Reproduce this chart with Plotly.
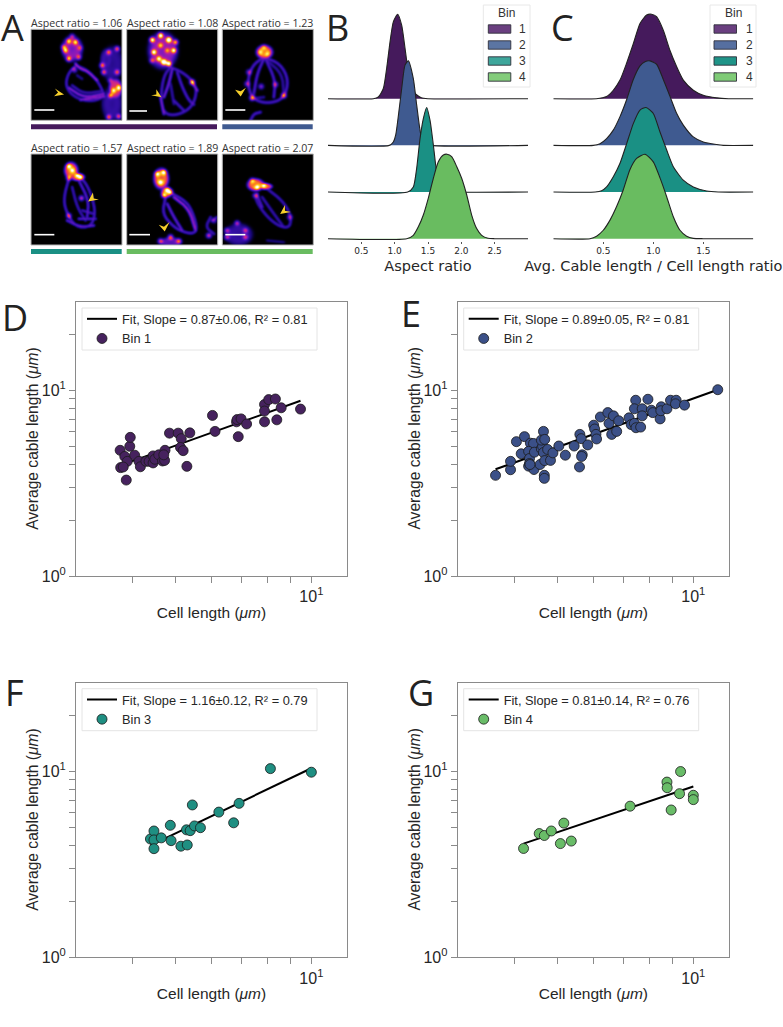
import numpy as np
import plotly.graph_objects as go

W, H = 783, 1027

# ---------------- DATA ----------------
d_x = [3.76,3.85,3.9,3.77,3.82,3.88,3.95,3.96,4.05,4.14,4.17,4.29,4.36,4.45,4.45,4.49,4.58,4.67,4.72,4.73,4.70,4.84,5.06,5.14,5.12,5.19,5.37,5.29,6.03,6.11,6.82,6.84,6.98,6.88,7.18,7.87,7.87,7.87,8.04,8.32,8.57,8.38,9.46]
d_y = [4.76,4.41,4.15,3.84,3.87,3.29,5.0,5.59,4.48,4.15,3.88,4.15,4.15,4.07,4.44,4.26,4.5,4.17,4.2,4.76,4.5,5.89,5.89,5.5,4.93,4.74,5.91,3.9,7.34,6.02,6.78,6.97,7.03,5.64,6.6,8.41,7.75,6.78,8.93,9.0,8.07,6.95,7.94]
e_x = [3.64,3.93,3.93,4.05,4.22,4.15,4.35,4.42,4.31,4.33,4.31,4.33,4.44,4.43,4.57,4.34,4.6,4.63,4.65,4.6,4.68,4.65,4.68,4.75,4.82,4.88,4.67,4.67,5.03,5.2,5.44,5.6,5.64,5.59,5.67,5.65,5.83,6.01,6.04,6.08,6.1,6.22,6.46,6.5,6.65,6.83,6.59,6.76,7.2,7.28,7.4,7.46,7.64,7.45,7.4,7.7,7.7,7.93,8.07,8.13,8.44,8.49,8.47,8.74,8.9,9.16,9.13,9.56,11.33]
e_y = [3.49,3.74,4.15,5.3,5.64,4.56,5.2,5.18,4.7,4.3,3.91,4.04,4.65,3.75,3.99,3.99,4.85,5.0,6.02,5.4,5.45,4.63,4.19,4.81,4.2,4.61,3.49,3.36,5.02,4.48,5.02,5.8,5.5,3.87,4.5,4.41,5.09,6.5,6.2,5.8,5.48,7.2,7.6,6.65,7.3,6.87,5.8,6.02,7.12,6.55,6.65,6.3,6.35,8.86,7.97,7.97,7.3,8.97,7.83,7.6,7.03,8.17,7.78,7.97,8.86,8.86,8.48,8.34,10.1]
f_x = [4.39,4.47,4.47,4.47,4.64,4.86,4.88,5.13,5.3,5.28,5.38,5.5,5.44,5.67,6.23,6.72,6.91,8.11,10.0]
f_y = [4.33,4.78,4.28,3.84,4.39,5.13,4.24,3.96,4.02,4.85,4.8,5.09,6.6,4.98,6.04,5.29,6.73,10.35,9.9]
g_x = [4.2,4.55,4.67,4.84,5.07,5.16,5.36,7.24,8.74,8.75,8.93,9.37,9.32,10.0,10.0]
g_y = [3.85,4.63,4.52,4.78,4.09,5.27,4.22,6.5,8.76,8.17,6.2,9.98,7.59,7.44,7.05]

d_fit_x, d_fit_y = [3.9, 9.46], [4.07, 8.8]
e_fit_x, e_fit_y = [3.64, 11.33], [3.76, 10.1]
f_fit_x, f_fit_y = [4.39, 10.0], [4.0, 10.4]
g_fit_x, g_fit_y = [4.2, 10.0], [4.09, 8.3]

fit_labels = ["Fit, Slope = 0.87±0.06, R² = 0.81",
              "Fit, Slope = 0.89±0.05, R² = 0.81",
              "Fit, Slope = 1.16±0.12, R² = 0.79",
              "Fit, Slope = 0.81±0.14, R² = 0.76"]
bin_labels = ["Bin 1", "Bin 2", "Bin 3", "Bin 4"]
legend_bins = ["1", "2", "3", "4"]
aspect_labels = ["Aspect ratio = 1.06", "Aspect ratio = 1.08", "Aspect ratio = 1.23",
                 "Aspect ratio = 1.57", "Aspect ratio = 1.89", "Aspect ratio = 2.07"]

b1_x = [0.68,0.755,0.83,0.88,0.93,0.98,1.045,1.105,1.155,1.2,1.3,1.4,1.5]
b1_h = [0,0.02,0.12,0.36,0.67,0.91,1,0.87,0.6,0.35,0.07,0.01,0]
b2_x = [0.92,0.98,1.015,1.06,1.105,1.155,1.205,1.28,1.33,1.395,1.45,1.55]
b2_h = [0,0.04,0.12,0.38,0.67,0.95,1,0.79,0.48,0.12,0.03,0]
b3_x = [1.195,1.28,1.33,1.38,1.43,1.48,1.53,1.58,1.63,1.7,1.8,1.9]
b3_h = [0,0.06,0.28,0.63,0.87,1,0.85,0.56,0.24,0.06,0.01,0]
b4_x = [1.18,1.28,1.355,1.43,1.505,1.58,1.655,1.73,1.785,1.855,1.93,2.005,2.08,2.155,2.23,2.305,2.4,2.5]
b4_h = [0,0.04,0.14,0.28,0.48,0.715,0.91,0.99,1,0.97,0.855,0.715,0.52,0.28,0.12,0.04,0.005,0]

c1_x = [0.43,0.533,0.6,0.667,0.733,0.8,0.867,0.933,0.983,1.033,1.1,1.167,1.233,1.3,1.4,1.5,1.633,1.75]
c1_h = [0,0.025,0.10,0.22,0.42,0.65,0.89,0.99,1,0.97,0.81,0.57,0.38,0.22,0.10,0.04,0.01,0]
c2_x = [0.40,0.467,0.533,0.6,0.667,0.733,0.8,0.867,0.917,0.967,1.033,1.1,1.167,1.233,1.3,1.4,1.5,1.633,1.7]
c2_h = [0,0.02,0.08,0.18,0.34,0.54,0.78,0.94,0.99,1,0.96,0.78,0.58,0.38,0.24,0.10,0.04,0.01,0]
c3_x = [0.42,0.483,0.533,0.6,0.667,0.733,0.8,0.867,0.927,1.0,1.067,1.133,1.2,1.3,1.4,1.533,1.65]
c3_h = [0,0.015,0.06,0.18,0.34,0.57,0.81,0.97,1,0.93,0.71,0.5,0.3,0.14,0.06,0.012,0]
c4_x = [0.367,0.433,0.5,0.567,0.633,0.7,0.767,0.833,0.917,1.0,1.067,1.133,1.2,1.267,1.333,1.4,1.5]
c4_h = [0,0.03,0.10,0.22,0.38,0.58,0.82,0.95,1,0.91,0.72,0.5,0.26,0.10,0.03,0.004,0]

b_ticks = [0.5, 1.0, 1.5, 2.0, 2.5]
c_ticks = [0.5, 1.0, 1.5]

# ---------------- STYLE ----------------
FILL = ["#451a5c", "#3f5a90", "#1a9084", "#69bc60"]
MARK = ["#46225e", "#3b5088", "#1f8f82", "#69bc68"]
SW_B = ["#6a3f80", "#5b75a3", "#3ea69b", "#83cc7b"]
SW_C = ["#6a3f80", "#566fa0", "#1f9488", "#7fcb77"]
TXT = "#262626"
AR = "Liberation Sans, Arial, sans-serif"
DV = "DejaVu Sans"
OS = "Open Sans"
fx = lambda p: p / W
fy = lambda p: 1 - p / H

fig = go.Figure()
layout = {}
shapes = []
annots = []

# ---- Panel A: sketch of the micrographs (coordinates in 3x page pixels) ----
FIRE = [[0,'#000000'],[.1,'#14066e'],[.24,'#3a10b0'],[.38,'#7c18c0'],[.5,'#c4209a'],
        [.62,'#f04a40'],[.74,'#ffa014'],[.88,'#ffe040'],[1,'#ffffff']]

panels = [
 dict(x0=31, y0=29.3,
  blobs=[(215,145,30,36,.42),(345,265,20,30,.56),(335,190,32,50,.2),(335,310,30,50,.22),(318,178,18,32,.24)],
  lines=[([(228,195),(262,210),(290,240),(306,270),(312,288),(280,302),(240,298),(208,278),(195,250),(205,215),(228,195)],.3),
         ([(205,262),(250,292),(310,280)],.48),([(225,190),(240,205),(262,212),(290,240)],.54),([(240,298),(312,288)],.46),([(215,255),(250,280),(305,272)],.28),([(230,225),(245,235)],.18)],
  spots=[(205,122,.6),(225,125,.6),(195,150,.55),(205,175,.65),(235,170,.5),(190,140,.5),(215,108,.4),(238,142,.35),(222,208,.4),(305,195,.6),(325,155,.55),(350,145,.6),(310,215,.55),(330,240,.4),(350,215,.5),(340,270,.5),(355,262,.6),(330,285,.55),(325,350,.55),(355,348,.55)]),
 dict(x0=126.7, y0=29.3,
  blobs=[(487,150,42,52,.44)],
  lines=[([(510,200),(490,225),(480,290),(490,340),(530,345),(575,320),(590,270),(575,240),(545,215),(510,200)],.32),
         ([(515,205),(505,250),(490,290)],.44),([(530,215),(545,260),(565,300),(580,312)],.34),([(520,300),(550,330)],.3),([(480,290),(490,340)],.46),([(575,245),(590,270)],.52),([(510,250),(520,310)],.24)],
  spots=[(455,118,1),(480,105,1),(505,118,1.2),(460,155,.8),(520,150,.8),(490,185,1.2),(505,190,1),(475,175,.7),(525,125,.7),(480,135,.5),(500,150,.4),(455,180,.5),(575,245,.7)]),
 dict(x0=222.3, y0=29.3,
  blobs=[(792,155,24,20,.7)],
  lines=[([(790,170),(840,190),(865,240),(850,295),(800,310),(755,295),(740,245),(755,195),(790,170)],.34),
         ([(790,175),(770,220),(760,280)],.36),([(795,175),(825,240),(820,290)],.34),([(750,360),(760,340),(780,335)],.34),([(800,180),(845,220),(850,280)],.24),([(755,295),(790,290)],.24)],
  spots=[(745,215,.38),(740,250,.38),(755,292,.65),(782,258,.4),(825,252,.4),(850,285,.6),(790,140,.3),(780,155,.3),(800,160,.3)]),
 dict(x0=31, y0=154,
  blobs=[(212,510,20,24,.66),(232,530,20,11,.6)],
  lines=[([(205,535),(190,590),(195,630),(225,680),(270,680),(285,640),(275,590),(255,545),(235,530)],.3),
         ([(235,540),(265,600),(260,650)],.34),([(215,560),(230,620),(255,660)],.26),([(200,660),(240,680),(280,675)],.36),([(235,655),(285,655)],.34),([(245,630),(280,640)],.28)],
  spots=[(205,497,.5),(215,510,.5),(230,525,.5),(205,533,.5),(240,530,.5),(243,593,.5),(205,646,.45)]),
 dict(x0=126.7, y0=154,
  blobs=[(482,535,22,30,.7),(498,575,16,16,.62),(510,725,30,14,.32)],
  lines=[([(495,590),(485,640),(520,680),(550,695),(580,700),(590,680),(570,620),(545,595),(505,575)],.33),
         ([(520,590),(565,625),(585,690)],.52),([(500,610),(520,650),(545,690)],.4),([(630,650),(615,680),(640,700)],.28),([(650,650),(635,660)],.24)],
  spots=[(470,520,.5),(490,515,.6),(480,545,.5),(500,570,.6),(490,585,.5),(510,575,.5),(480,722,.55),(510,710,.6),(535,722,.55),(625,705,.55),(640,660,.3)]),
 dict(x0=222.3, y0=154,
  blobs=[(765,553,24,18,.7),(795,558,20,9,.66),(715,702,40,32,.22)],
  lines=[([(770,580),(765,600),(800,650),(840,680),(870,680),(870,640),(845,600),(800,565)],.28),
         ([(785,590),(820,640),(850,680)],.26),([(770,585),(785,620)],.34),([(800,720),(850,725)],.14)],
  spots=[(755,540,.4),(770,560,.5),(790,555,.5),(765,585,.45),(868,650,.35),(680,690,.42),(710,668,.46),(735,690,.38),(680,710,.42),(735,710,.38)]),
]

arrows = [[(189,283),(166,268),(174,278),(164,287)],
          [(482,290),(469,270),(469,283),(456,285)],
          [(722,287),(708,270),(722,274),(735,265)],
          [(267,603),(279,580),(281,595),(294,598)],
          [(494,692),(479,675),(492,680),(506,668)],
          [(843,640),(855,618),(855,632),(870,635)]]
scalebars = [(103,163,330),(388,441,333),(676,736,330),(103,163,704),(388,450,704),(676,736,704)]

def chaikin(P, it=2):
    for _ in range(it):
        Q = [P[0]]
        for A, B in zip(P[:-1], P[1:]):
            Q += [A*.75+B*.25, A*.25+B*.75]
        Q.append(P[-1])
        P = np.array(Q)
    return P

def soften(Z):
    K = np.array([1, 2, 1])/4
    Z = np.apply_along_axis(lambda r: np.convolve(r, K, mode='same'), 0, Z)
    return np.apply_along_axis(lambda r: np.convolve(r, K, mode='same'), 1, Z)

def render(p, n=91):
    xs = p['x0'] + np.arange(n) + .5
    ys = p['y0'] + np.arange(n) + .5
    X, Y = np.meshgrid(xs, ys)
    Z = np.zeros_like(X)
    for cx, cy, rx, ry, a in p['blobs']:
        r = np.sqrt(((X-cx/3)/(rx/3))**2 + ((Y-cy/3)/(ry/3))**2)
        Z = np.maximum(Z, a*np.exp(-r**6)*(1-.15*np.exp(-(r/.35)**2)))
    for pts, a in p['lines']:
        P = chaikin(np.array(pts, float)/3)
        seg = []
        for A, B in zip(P[:-1], P[1:]):
            k = max(2, int(np.hypot(*(B-A))*2))
            seg.append(A + (B-A)*np.linspace(0, 1, k)[:, None])
        S = np.vstack(seg)
        d2 = ((X[..., None]-S[:, 0])**2 + (Y[..., None]-S[:, 1])**2).min(axis=-1)
        Z = np.maximum(Z, a*1.15*np.exp(-d2/(2*.75**2)))
    for cx, cy, a in p['spots']:
        d2 = (X-cx/3)**2 + (Y-cy/3)**2
        Z = Z + a*1.15*np.exp(-d2/(2*1.6**2))
    return np.round(np.clip(soften(Z), 0, 1), 3)

for p in panels:
    fig.add_trace(go.Heatmap(z=render(p), x0=p['x0']+.5, dx=1, y0=p['y0']+.5, dy=1, xaxis='x7', yaxis='y7',
                             colorscale=FIRE, zmin=0, zmax=1, showscale=False, hoverinfo='skip', zsmooth='best'))
layout['xaxis7'] = dict(domain=[0, 320/W], range=[0, 320], visible=False, fixedrange=True)
layout['yaxis7'] = dict(domain=[1-260/H, 1], range=[260, 0], visible=False, fixedrange=True)

def rect(x0, y0, x1, y1, fill=None, line=None, lw=1):
    shapes.append(dict(type='rect', xref='paper', yref='paper', x0=fx(x0), x1=fx(x1), y0=fy(y0), y1=fy(y1),
                       fillcolor=fill or 'rgba(0,0,0,0)', line=dict(color=line or 'rgba(0,0,0,0)', width=lw if line else 0)))

for p in panels:
    rect(p['x0'], p['y0'], p['x0']+91, p['y0']+91, None, '#b5b5b5', 1)
for a in arrows:
    cx = sum(q[0] for q in a)/4
    cy = sum(q[1] for q in a)/4
    path = 'M' + ' L'.join(f"{fx((cx+(x-cx)*1.2)/3):.5f},{fy((cy+(y-cy)*1.2)/3):.5f}" for x, y in a) + ' Z'
    shapes.append(dict(type='path', xref='paper', yref='paper', path=path, fillcolor='#f6cf2c', line=dict(width=0)))
for x0, x1, y in scalebars:
    shapes.append(dict(type='line', xref='paper', yref='paper', x0=fx(x0/3), x1=fx(x1/3), y0=fy(y/3), y1=fy(y/3),
                       line=dict(color='white', width=1.6)))
rect(31, 124.3, 217, 129.3, FILL[0])
rect(222.3, 124.3, 312.7, 129.3, FILL[1])
rect(31, 249, 121.7, 254, FILL[2])
rect(126.7, 249, 312.7, 254, FILL[3])

def text(x, y, t, size, family=AR, color=TXT, xanchor='center', angle=0):
    annots.append(dict(xref='paper', yref='paper', x=fx(x), y=fy(y), text=t, showarrow=False, xanchor=xanchor,
                       yanchor='middle', textangle=angle, font=dict(size=size, family=family, color=color)))

for t, (x, y) in zip(aspect_labels, [(29, 23), (124.7, 23), (220.3, 23), (29, 147.7), (124.7, 147.7), (220.3, 147.7)]):
    text(x, y, t, 10.6, OS, '#333333', 'left')

for t, x, y in [("A", 12.5, 27), ("B", 337, 27), ("C", 562, 27), ("D", 15, 317), ("E", 411, 313), ("F", 14.5, 692), ("G", 421, 692)]:
    text(x, y, t, 36, OS, '#222222')

# ---- Ridge panels ----
ridge_offsets = [140, 93.33, 46.67, 0]
ridge_height = 84.5

def ridges(series, xmax, xa, ya):
    for (xs, hs), off, col in zip(series, ridge_offsets, FILL):
        fig.add_trace(go.Scatter(x=[0]+xs+[xmax], y=[off]+[off+h*ridge_height for h in hs]+[off], xaxis=xa, yaxis=ya,
                                 mode='lines', line=dict(color='#222222', width=1.1, shape='spline', smoothing=.6),
                                 fill='toself', fillcolor=col, showlegend=False, hoverinfo='skip'))

ridges([(b1_x,b1_h),(b2_x,b2_h),(b3_x,b3_h),(b4_x,b4_h)], 3, 'x5', 'y5')
ridges([(c1_x,c1_h),(c2_x,c2_h),(c3_x,c3_h),(c4_x,c4_h)], 2, 'x6', 'y6')

def ridge_axes(n, x0, x1, xmax, ticks, title, st):
    layout[f'xaxis{n}'] = dict(domain=[fx(x0), fx(x1)], range=[0, xmax], anchor=f'y{n}', showgrid=False, zeroline=False,
        showline=False, ticks='outside', ticklen=2, tickwidth=.8, tickcolor='#555', tickvals=ticks,
        ticktext=[f"{t:.1f}" for t in ticks], tickfont=dict(family=DV, size=9, color=TXT), ticklabelstandoff=-1,
        title=dict(text=title, standoff=st, font=dict(family=DV, size=14.5, color=TXT)), fixedrange=True)
    layout[f'yaxis{n}'] = dict(domain=[fy(241), fy(8.7)], range=[-2.3, 230], anchor=f'x{n}', visible=False, fixedrange=True)

ridge_axes(5, 328, 528, 3, b_ticks, "Aspect ratio", 6)
ridge_axes(6, 553.3, 753.3, 2, c_ticks, "Avg. Cable length / Cell length ratio", 6)

def bin_legend(x0, x1, tx, lx, swatches):
    rect(x0, 5, x1, 87, 'rgba(255,255,255,.85)', '#e8e8e8', 1)
    text((x0+x1)/2, 13.5, "Bin", 12, AR, '#333')
    for lab, col, yc in zip(legend_bins, swatches, [29, 45, 61, 77]):
        rect(tx, yc-4.2, tx+22.5, yc+4.2, col, '#2f2f3a', .9)
        text(lx, yc, lab, 12, AR, '#333')

bin_legend(483.3, 530, 488.3, 522, SW_B)
bin_legend(710, 756, 714, 749, SW_C)

# ---- Scatter panels ----
scatter = [(d_x, d_y, d_fit_x, d_fit_y, 76, 347, 302, 576),
           (e_x, e_y, e_fit_x, e_fit_y, 457.7, 729, 302, 576),
           (f_x, f_y, f_fit_x, f_fit_y, 76, 347, 682.7, 957.3),
           (g_x, g_y, g_fit_x, g_fit_y, 457.7, 729, 682.7, 957.3)]
XMINOR = [4, 5, 6, 7, 8, 9]
YMINOR = [2, 3, 4, 5, 6, 7, 8, 9, 20]
for i, (sx, sy, lx, ly, x0, x1, y0, y1) in enumerate(scatter):
    n = '' if i == 0 else str(i+1)
    xa, ya = f'x{n}', f'y{n}'
    leg = f'legend{n}'
    fig.add_trace(go.Scatter(x=lx, y=ly, xaxis=xa, yaxis=ya, mode='lines', name=fit_labels[i], legend=leg,
                             line=dict(color='black', width=2), hoverinfo='skip'))
    fig.add_trace(go.Scatter(x=sx, y=sy, xaxis=xa, yaxis=ya, mode='markers', name=bin_labels[i], legend=leg,
                             marker=dict(color=MARK[i], size=10, line=dict(color='#1a1a1a', width=.8)), hoverinfo='skip'))
    common = dict(type='log', showgrid=False, zeroline=False, showline=True, mirror=True, linecolor='#8a8a8a', linewidth=1,
                  ticks='outside', ticklen=6, tickwidth=1, tickcolor='#8a8a8a', tickfont=dict(family=AR, size=16, color=TXT),
                  fixedrange=True)
    layout[f'xaxis{n}'] = dict(common, domain=[fx(x0), fx(x1)], range=[np.log10(3), np.log10(12)], anchor=ya,
                               tickvals=[10], ticktext=["10<sup>1</sup>"],
                               minor=dict(tickvals=XMINOR, ticks='outside', ticklen=6, tickwidth=1, tickcolor='#8a8a8a'),
                               title=dict(text="Cell length (<i>μm</i>)", standoff=2, font=dict(family=AR, size=15.5, color=TXT)))
    layout[f'yaxis{n}'] = dict(common, domain=[fy(y1), fy(y0)], range=[0, np.log10(30)], anchor=xa,
                               tickvals=[1, 10], ticktext=["10<sup>0</sup>", "10<sup>1</sup>"],
                               minor=dict(tickvals=YMINOR, ticks='outside', ticklen=6, tickwidth=1, tickcolor='#8a8a8a'))
    text(x0-43.7, (y0+y1)/2-0.5, "Average cable length (<i>μm</i>)", 15.6, AR, TXT, 'center', -90)
    # legend frame is drawn separately: plotly's legend has more top padding than the original
    rect(x0+6, y0+6, x0+241, y0+48, 'rgba(255,255,255,.8)', '#e4e4e4', 1)
    layout[f'legend{n}'] = dict(x=fx(x0+6), y=fy(y0+2), xanchor='left', yanchor='top', bgcolor='rgba(0,0,0,0)',
                                borderwidth=0, font=dict(family=AR, size=12.8, color=TXT),
                                itemclick=False, itemdoubleclick=False, tracegroupgap=0)

fig.update_layout(**layout)
fig.update_layout(width=W, height=H, margin=dict(l=0, r=0, t=0, b=0, pad=0, autoexpand=False), paper_bgcolor='white',
                  plot_bgcolor='rgba(0,0,0,0)', shapes=shapes, annotations=annots, hovermode=False)
fig.write_html("out.html", config=dict(displayModeBar=False),
               post_script="document.body.style.margin='0';document.body.style.overflow='hidden';")
